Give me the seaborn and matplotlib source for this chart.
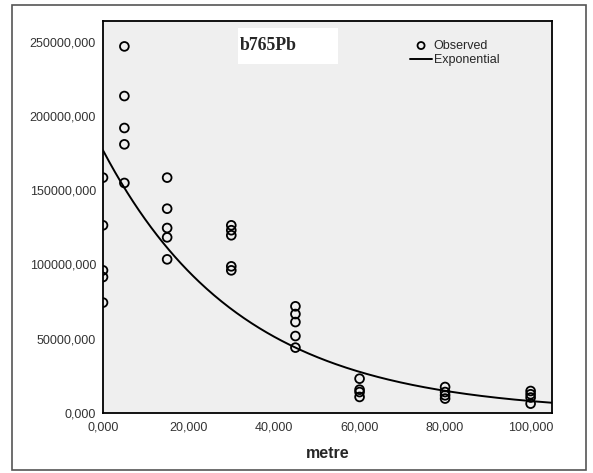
import numpy as np
import pandas as pd
import matplotlib
matplotlib.use("Agg")
import matplotlib.pyplot as plt
import seaborn as sns
from matplotlib.ticker import FuncFormatter
from matplotlib.patches import Rectangle

# Observed values (distance in metres, b765Pb)
metre = [0, 0, 0, 0, 0,
         5, 5, 5, 5, 5,
         15, 15, 15, 15, 15,
         30, 30, 30, 30, 30,
         45, 45, 45, 45, 45,
         60, 60, 60, 60,
         80, 80, 80, 80,
         100, 100, 100, 100]
b765pb = [158400, 126300, 96000, 91500, 74300,
          246700, 213300, 191800, 180800, 154800,
          158400, 137500, 124500, 118200, 103400,
          126300, 123000, 119600, 98700, 96000,
          71800, 66600, 61200, 51800, 44000,
          23100, 15700, 14100, 10800,
          17500, 14100, 11900, 9700,
          14800, 12600, 10400, 6300]

# Exponential model y = a * exp(b * x)
fit_a = 176800
fit_b = -0.0309

df = pd.DataFrame({"metre": metre, "b765Pb": b765pb})
x_fit = np.linspace(0, 105, 300)
fit_df = pd.DataFrame({"metre": x_fit, "b765Pb": fit_a * np.exp(fit_b * x_fit)})

sns.set_style("white")
plt.rcParams["font.family"] = ["Liberation Sans", "DejaVu Sans"]

fig = plt.figure(figsize=(5.93, 4.73), dpi=100)
ax = fig.add_axes([103 / 593, 1 - 413 / 473, 449 / 593, 392 / 473])
ax.set_facecolor("#efefef")

# outer frame round the whole chart
fig.patches.append(Rectangle((12 / 593, 1 - 470 / 473), 574 / 593, 465 / 473,
                             transform=fig.transFigure, fill=False,
                             edgecolor="#555555", linewidth=1.2))

sns.lineplot(data=fit_df, x="metre", y="b765Pb", ax=ax, color="black",
             linewidth=1.4, label="Exponential", zorder=2)
sns.scatterplot(data=df, x="metre", y="b765Pb", ax=ax, marker="o",
                facecolors="none", edgecolor="black", linewidth=1.3, s=40,
                label="Observed", zorder=3, clip_on=True)

ax.set_xlim(0, 105)
ax.set_ylim(0, 263800)
ax.set_xticks([0, 20, 40, 60, 80, 100])
ax.set_yticks([0, 50000, 100000, 150000, 200000, 250000])
fmt = FuncFormatter(lambda v, p: f"{v:.3f}".replace(".", ","))
ax.xaxis.set_major_formatter(fmt)
ax.yaxis.set_major_formatter(fmt)
ax.tick_params(axis="both", direction="out", length=5, width=1.2,
               labelsize=9, colors="black", labelcolor="#333333", pad=1)
ax.tick_params(axis="y", pad=0)
ax.set_xlabel("metre", fontsize=11.5, fontweight="bold")
ax.xaxis.set_label_coords(0.5, -0.085)
ax.set_ylabel("")
for side in ax.spines.values():
    side.set_color("black")
    side.set_linewidth(1.3)

# title box
ax.add_patch(Rectangle((238 / 593, 1 - 64 / 473), 100 / 593, 36 / 473,
                       transform=fig.transFigure, facecolor="white",
                       edgecolor="none", zorder=1))
fig.text(240 / 593, 1 - 46 / 473, "b765Pb", fontsize=12.8, fontweight="bold",
         family=["Liberation Serif", "DejaVu Serif"], va="center", ha="left")

handles, labels = ax.get_legend_handles_labels()
order = [labels.index("Observed"), labels.index("Exponential")]
leg = ax.legend([handles[i] for i in order], [labels[i] for i in order],
                loc="upper left", bbox_to_anchor=(0.684, 0.952), frameon=False,
                fontsize=9, handlelength=1.75, handletextpad=0.15,
                labelspacing=0.2, borderaxespad=0, borderpad=0,
                markerscale=0.8)

fig.savefig("out.png", dpi=100)
